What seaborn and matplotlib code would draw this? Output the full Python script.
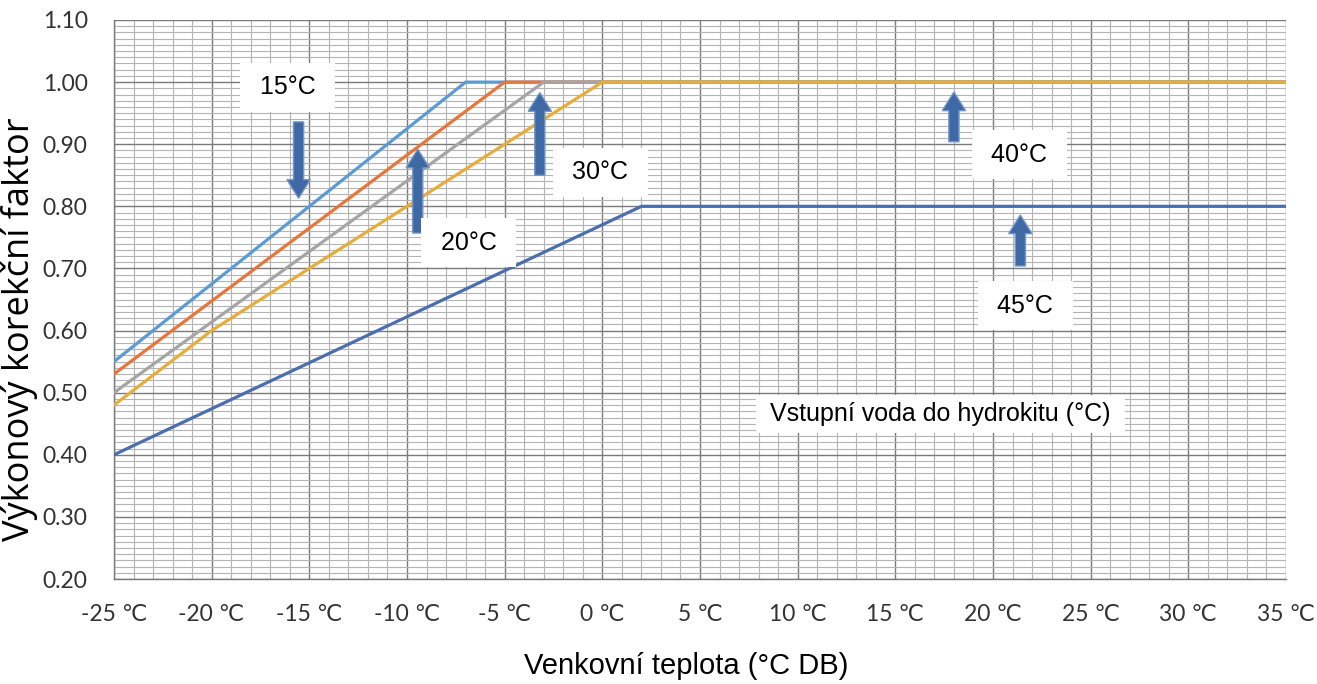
import matplotlib
matplotlib.use("Agg")
import matplotlib.pyplot as plt
import seaborn as sns
import pandas as pd
from matplotlib.ticker import MultipleLocator, FixedLocator, FixedFormatter

# ---------------- data ----------------
series_names = ["15°C", "20°C", "30°C", "40°C", "45°C"]
t_15 = [-25, -7, 35]
f_15 = [0.55, 1.00, 1.00]
t_20 = [-25, -5, 35]
f_20 = [0.53, 1.00, 1.00]
t_30 = [-25, -3, 35]
f_30 = [0.50, 1.00, 1.00]
t_40 = [-25, -20, 0, 35]
f_40 = [0.48, 0.60, 1.00, 1.00]
t_45 = [-25, 2, 35]
f_45 = [0.40, 0.80, 0.80]

x_ticks = [-25, -20, -15, -10, -5, 0, 5, 10, 15, 20, 25, 30, 35]
x_tick_labels = ["-25 ℃", "-20 ℃", "-15 ℃", "-10 ℃", "-5 ℃", "0 ℃", "5 ℃",
                 "10 ℃", "15 ℃", "20 ℃", "25 ℃", "30 ℃", "35 ℃"]
y_ticks = [0.20, 0.30, 0.40, 0.50, 0.60, 0.70, 0.80, 0.90, 1.00, 1.10]
y_tick_labels = ["0.20", "0.30", "0.40", "0.50", "0.60", "0.70", "0.80",
                 "0.90", "1.00", "1.10"]

x_label = "Venkovní teplota (°C DB)"
y_label = "Výkonový korekční faktor"
legend_title = "Vstupní voda do hydrokitu (°C)"

colors = {"15°C": "#5B9BD5", "20°C": "#E8763A", "30°C": "#A5A5A5",
          "40°C": "#E7AD3A", "45°C": "#4A6EAE"}

rows = []
for name, ts, fs in zip(series_names, [t_15, t_20, t_30, t_40, t_45],
                        [f_15, f_20, f_30, f_40, f_45]):
    for t, f in zip(ts, fs):
        rows.append({"series": name, "t": t, "f": f})
df = pd.DataFrame(rows)

# ---------------- figure ----------------
sns.set_theme(style="white")
plt.rcParams["font.family"] = ["Liberation Sans", "DejaVu Sans"]

W, H = 1317, 684
fig = plt.figure(figsize=(W / 100, H / 100), dpi=100)
L, R, T, B = 114, 1286, 20, 579
ax = fig.add_axes([L / W, 1 - B / H, (R - L) / W, (B - T) / H])

sns.lineplot(data=df, x="t", y="f", hue="series", hue_order=series_names,
             palette=colors, sort=False, estimator=None, linewidth=2.3,
             legend=False, ax=ax, zorder=3)

ax.set_xlim(-25, 35)
ax.set_ylim(0.2, 1.1)
ax.xaxis.set_major_locator(FixedLocator(x_ticks))
ax.xaxis.set_major_formatter(FixedFormatter(x_tick_labels))
ax.xaxis.set_minor_locator(MultipleLocator(1))
ax.yaxis.set_major_locator(FixedLocator(y_ticks))
ax.yaxis.set_major_formatter(FixedFormatter(y_tick_labels))
ax.yaxis.set_minor_locator(MultipleLocator(0.01))

ax.set_axisbelow(True)
ax.grid(which="minor", color="#b4b4b4", linewidth=0.8)
ax.grid(which="major", color="#7a7a7a", linewidth=1.0)

for s in ["top", "right"]:
    ax.spines[s].set_visible(False)
for s in ["left", "bottom"]:
    ax.spines[s].set_color("#7a7a7a")
    ax.spines[s].set_linewidth(1.0)

tick_font = ["Lato", "DejaVu Sans"]
ax.tick_params(axis="x", which="major", length=8, color="#b0b0b0", width=1,
               pad=10, labelsize=16.5, labelcolor="#333333")
ax.tick_params(axis="x", which="minor", length=0)
ax.tick_params(axis="y", which="both", length=0, pad=19, labelsize=16.5,
               labelcolor="#333333")
for lab in ax.get_xticklabels() + ax.get_yticklabels():
    lab.set_family(tick_font)

ax.set_xlabel(x_label, fontsize=21, color="black")
ax.xaxis.set_label_coords((686 - L) / (R - L), (B - 666) / (B - T))
ax.xaxis.label.set_va("center")
ax.set_ylabel(y_label, fontsize=26, color="black", family=["Open Sans", "DejaVu Sans"])
ax.yaxis.set_label_coords((19 - L) / (R - L), (B - 329) / (B - T))
ax.yaxis.label.set_va("center")

# ---------------- arrows ----------------
arrow_fc = "#3F69A5"
arrow_ec = "#7496C8"
arrows = [(-15.55, 0.936, 0.813), (-9.45, 0.757, 0.892), (-3.2, 0.850, 0.983),
          (18.0, 0.904, 0.984), (21.4, 0.704, 0.786)]
for x0, y0, y1 in arrows:
    ax.arrow(x0, y0, 0, y1 - y0, width=0.52, head_width=1.2,
             head_length=0.03, length_includes_head=True, fc=arrow_fc,
             ec=arrow_ec, lw=1.0, zorder=5)

# ---------------- labels ----------------
box = dict(boxstyle="square,pad=0.5", fc="white", ec="none")
label_pos = [(-16.1, 0.992), (-6.85, 0.741), (-0.1, 0.855), (21.35, 0.883),
             (21.65, 0.640)]
for name, (x0, y0) in zip(series_names, label_pos):
    ax.text(x0, y0, " " + name + " ", ha="center", va="center", fontsize=18,
            color="black", bbox=box, zorder=6)

ax.text(17.3, 0.466, " " + legend_title + " ", ha="center", va="center",
        fontsize=18, color="black",
        bbox=dict(boxstyle="square,pad=0.28", fc="white", ec="none"), zorder=6)

fig.savefig("out.png", dpi=100, facecolor="white")
